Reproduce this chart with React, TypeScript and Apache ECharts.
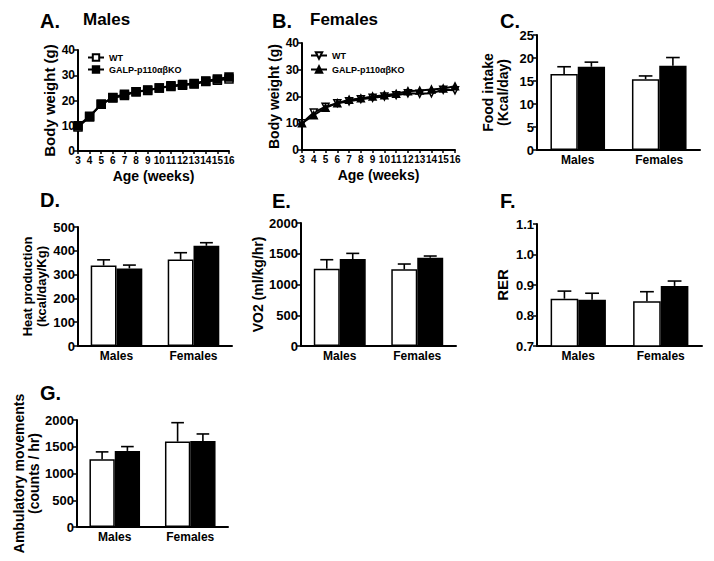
import React, { useEffect, useRef } from "react";
import * as echarts from "echarts";

// ---------- data ----------
const weeks = [3, 4, 5, 6, 7, 8, 9, 10, 11, 12, 13, 14, 15, 16];
const maleWT = [9.5, 13.5, 18.5, 21, 22, 23.5, 24, 25, 25.5, 26, 26.5, 27.5, 28, 28.5];
const maleKO = [10, 13.8, 18.5, 21.2, 22.5, 23.5, 24.2, 25, 25.8, 26.3, 26.7, 27.7, 28.5, 29.3];
const femaleWT = [10, 14, 16.2, 17.5, 18.2, 19, 19.5, 20, 20.5, 21.2, 21, 21.2, 22.5, 22.3];
const femaleKO = [10, 13, 15.8, 17.5, 18.8, 19.3, 20, 20.5, 21, 22, 22.2, 22.6, 23, 23.8];

const sexes = ["Males", "Females"];

const foodWT = [16.5, 15.4];
const foodWTsem = [1.6, 0.7];
const foodKO = [18.1, 18.3];
const foodKOsem = [1.0, 1.8];

const heatWT = [338, 363];
const heatWTsem = [24, 29];
const heatKO = [326, 421];
const heatKOsem = [14, 13];

const vo2WT = [1257, 1246];
const vo2WTsem = [146, 87];
const vo2KO = [1414, 1436];
const vo2KOsem = [92, 27];

const rerWT = [0.855, 0.847];
const rerWTsem = [0.025, 0.031];
const rerKO = [0.852, 0.897];
const rerKOsem = [0.021, 0.016];

const ambWT = [1267, 1596];
const ambWTsem = [137, 354];
const ambKO = [1422, 1609];
const ambKOsem = [81, 130];

const WT = "WT";
const KO = "GALP-p110αβKO";

// ---------- helpers ----------
const FONT = "'Liberation Sans', Arial, Helvetica, sans-serif";
const GAP = 0.33;

function yAxis(g: number, min: number, max: number, interval: number, name: string, nameGap: number, nameSize: number, labelSize: number, fmt?: (v: number) => string) {
  return {
    type: "value",
    gridIndex: g,
    min,
    max,
    interval,
    axisLine: { show: true, lineStyle: { color: "#000", width: 2 } },
    axisTick: { show: true, length: 4, lineStyle: { color: "#000", width: 1.5 } },
    axisLabel: {
      color: "#000",
      fontWeight: "bold",
      fontSize: labelSize,
      fontFamily: FONT,
      margin: 3,
      formatter: fmt || ((v: number) => String(v)),
    },
    splitLine: { show: false },
    name,
    nameLocation: "middle",
    nameRotate: 90,
    nameGap,
    nameTextStyle: { color: "#000", fontWeight: "bold", fontSize: nameSize, fontFamily: FONT, lineHeight: nameSize + 1 },
  };
}

function weekAxis(g: number) {
  return {
    type: "value",
    gridIndex: g,
    min: 3,
    max: 16,
    interval: 1,
    axisLine: { show: true, lineStyle: { color: "#000", width: 2 } },
    axisTick: { show: true, length: 3, lineStyle: { color: "#000", width: 1.5 } },
    axisLabel: {
      color: "#000",
      fontWeight: "bold",
      fontSize: 10,
      fontFamily: FONT,
      margin: 4,
      hideOverlap: false,
      showMinLabel: true,
      showMaxLabel: true,
      formatter: (v: number) => String(v),
    },
    splitLine: { show: false },
    name: "Age (weeks)",
    nameLocation: "middle",
    nameGap: 18,
    nameTextStyle: { color: "#000", fontWeight: "bold", fontSize: 14, fontFamily: FONT },
  };
}

function catAxis(g: number) {
  return {
    type: "category",
    gridIndex: g,
    data: sexes,
    axisLine: { show: true, lineStyle: { color: "#000", width: 2 } },
    axisTick: { show: false },
    axisLabel: { color: "#000", fontWeight: "bold", fontSize: 12, fontFamily: FONT, margin: 4 },
    splitLine: { show: false },
  };
}

function bars(g: number, wt: number[], wtSem: number[], ko: number[], koSem: number[]) {
  const mk = (vals: number[], fill: string) => ({
    type: "bar",
    xAxisIndex: g,
    yAxisIndex: g,
    data: vals,
    barGap: "0%",
    barCategoryGap: `${GAP * 100}%`,
    itemStyle: { color: fill, borderColor: "#000", borderWidth: 1.5 },
    z: 2,
  });
  const err = (vals: number[], sem: number[], side: number) => ({
    type: "custom",
    xAxisIndex: g,
    yAxisIndex: g,
    z: 5,
    data: vals.map((v, i) => [i, v, v + sem[i]]),
    renderItem: (_p: any, api: any) => {
      const cat = api.value(0);
      const top = api.coord([cat, api.value(1)]);
      const end = api.coord([cat, api.value(2)]);
      const catW = api.size([1, 0])[0];
      const bw = (catW * (1 - GAP)) / 2;
      const x = top[0] + (side * bw) / 2;
      const st = { stroke: "#000", lineWidth: 1.6 };
      return {
        type: "group",
        children: [
          { type: "line", shape: { x1: x, y1: top[1], x2: x, y2: end[1] }, style: st },
          { type: "line", shape: { x1: x - bw / 4, y1: end[1], x2: x + bw / 4, y2: end[1] }, style: st },
        ],
      };
    },
  });
  return [mk(wt, "#fff"), mk(ko, "#000"), err(wt, wtSem, -1), err(ko, koSem, 1)];
}

function lineSeries(g: number, name: string, vals: number[], symbol: string, filled: boolean, rotate = 0) {
  return {
    type: "line",
    name,
    xAxisIndex: g,
    yAxisIndex: g,
    data: weeks.map((w, i) => [w, vals[i]]),
    symbol,
    symbolSize: symbol === "rect" ? 8 : 7,
    symbolRotate: rotate,
    showAllSymbol: true,
    itemStyle: { color: filled ? "#000" : "#fff", borderColor: "#000", borderWidth: 1.5 },
    lineStyle: { color: "#000", width: 2 },
    z: filled ? 4 : 3,
  };
}

function label(text: string, x: number, y: number, size: number) {
  return {
    type: "text",
    x,
    y,
    style: { text, fill: "#000", fontSize: size, fontWeight: "bold", fontFamily: FONT, align: "left", verticalAlign: "middle" },
  };
}

const legendText = { fontSize: 9, fontWeight: "bold", fontFamily: FONT, color: "#000" };

export default function App() {
  const ref = useRef<HTMLDivElement>(null);
  useEffect(() => {
    if (!ref.current) return;
    const chart = echarts.init(ref.current, null, { renderer: "svg" });
    const option: any = {
      animation: false,
      backgroundColor: "#fff",
      grid: [
        { left: 78, top: 50, width: 151, height: 101 }, // A
        { left: 302, top: 43, width: 153, height: 107 }, // B
        { left: 537, top: 35, width: 163, height: 115 }, // C
        { left: 78, top: 227, width: 154, height: 119 }, // D
        { left: 301, top: 223, width: 155, height: 123 }, // E
        { left: 537, top: 224, width: 165, height: 122 }, // F
        { left: 77, top: 420, width: 151, height: 107 }, // G
      ],
      xAxis: [weekAxis(0), weekAxis(1), catAxis(2), catAxis(3), catAxis(4), catAxis(5), catAxis(6)],
      yAxis: [
        yAxis(0, 0, 40, 10, "Body weight (g)", 20, 15, 12),
        yAxis(1, 0, 40, 10, "Body weight (g)", 21, 14, 12),
        yAxis(2, 0, 25, 5, "Food intake\n(Kcal/day)", 27, 14, 13),
        yAxis(3, 0, 500, 100, "Heat production\n(kcal/day/Kg)", 30, 13, 13),
        yAxis(4, 0, 2000, 500, "VO2 (ml/kg/hr)", 33, 14, 13),
        yAxis(5, 0.7, 1.1, 0.1, "RER", 27, 15, 13, (v: number) => v.toFixed(1)),
        yAxis(6, 0, 2000, 500, "Ambulatory movements\n(counts / hr)", 35, 14, 13),
      ],
      legend: [
        {
          data: [WT, KO],
          left: 82,
          top: 48,
          orient: "vertical",
          itemWidth: 16,
          itemHeight: 8,
          itemGap: 3,
          selectedMode: false,
          textStyle: legendText,
        },
        {
          data: [WT + " ", KO + " "],
          formatter: (n: string) => n.trim(),
          left: 305,
          top: 46,
          orient: "vertical",
          itemWidth: 16,
          itemHeight: 8,
          itemGap: 5,
          selectedMode: false,
          textStyle: legendText,
        },
      ],
      series: [
        lineSeries(0, WT, maleWT, "rect", false),
        lineSeries(0, KO, maleKO, "rect", true),
        lineSeries(1, WT + " ", femaleWT, "triangle", false, 180),
        lineSeries(1, KO + " ", femaleKO, "triangle", true),
        ...bars(2, foodWT, foodWTsem, foodKO, foodKOsem),
        ...bars(3, heatWT, heatWTsem, heatKO, heatKOsem),
        ...bars(4, vo2WT, vo2WTsem, vo2KO, vo2KOsem),
        ...bars(5, rerWT, rerWTsem, rerKO, rerKOsem),
        ...bars(6, ambWT, ambWTsem, ambKO, ambKOsem),
      ],
      graphic: [
        label("A.", 40, 21, 20),
        label("Males", 83, 19, 17),
        label("B.", 272, 21, 20),
        label("Females", 310, 19, 17),
        label("C.", 500, 21, 20),
        label("D.", 40, 200, 20),
        label("E.", 272, 201, 20),
        label("F.", 500, 201, 20),
        label("G.", 40, 393, 20),
      ],
    };
    chart.setOption(option);
    return () => chart.dispose();
  }, []);
  return <div ref={ref} style={{ position: "absolute", left: 0, top: 0, width: 714, height: 561, background: "#fff" }} />;
}
